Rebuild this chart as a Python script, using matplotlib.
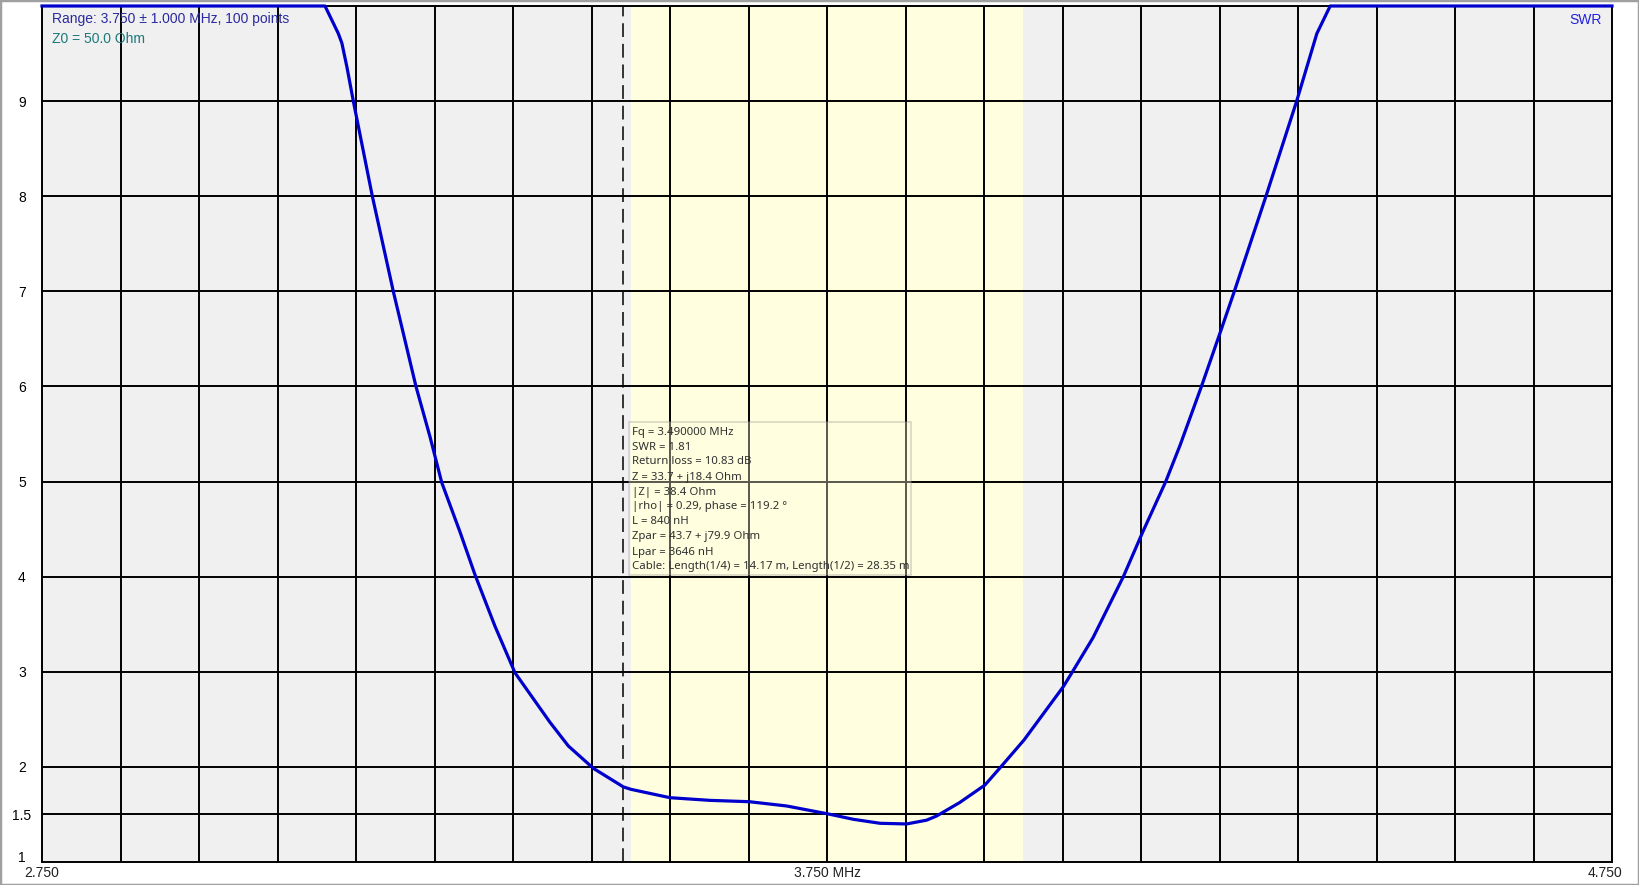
import matplotlib
matplotlib.use('Agg')
import matplotlib.pyplot as plt
from matplotlib.patches import Rectangle
from matplotlib.transforms import ScaledTranslation

# SWR sweep, values (display clipped at 10)
freq_mhz = [2.750, 3.1105, 3.1211, 3.1275, 3.132, 3.1384, 3.1466, 3.1708, 3.1975,
            3.2264, 3.2443, 3.2592, 3.2825, 3.3016, 3.327, 3.3525, 3.397, 3.4205,
            3.4523, 3.4905, 3.5003, 3.550, 3.601, 3.651, 3.6986, 3.7517, 3.7835,
            3.8175, 3.8515, 3.877, 3.8897, 3.919, 3.9513, 3.9704, 4.001, 4.051,
            4.0616, 4.089, 4.1275, 4.1517, 4.1815, 4.1997, 4.227, 4.2506, 4.2689,
            4.3092, 4.3483, 4.374, 4.391, 4.750]
swr = [10.0, 10.0, 9.82, 9.71, 9.61, 9.36, 9.0, 8.0, 7.0,
       6.0, 5.47, 4.99, 4.47, 4.02, 3.48, 2.99, 2.47, 2.22,
       1.985, 1.79, 1.764, 1.676, 1.648, 1.634, 1.589, 1.505, 1.449,
       1.407, 1.40, 1.44, 1.484, 1.625, 1.81, 1.99, 2.283, 2.843,
       2.985, 3.36, 4.0, 4.46, 5.0, 5.38, 6.0, 6.56, 7.0,
       8.0, 9.0, 9.71, 10.0, 10.0]

band = (3.5, 4.0)
marker_fq = 3.49
y_ticks = [1, 1.5, 2, 3, 4, 5, 6, 7, 8, 9]
y_labels = ['1', '1.5', '2', '3', '4', '5', '6', '7', '8', '9']
x_grid = [2.75 + 0.1 * i for i in range(1, 20)]

info_lines = [
    'Fq = 3.490000 MHz',
    'SWR = 1.81',
    'Return loss = 10.83 dB',
    'Z = 33.7 + j18.4 Ohm',
    '|Z| = 38.4 Ohm',
    '|rho| = 0.29, phase = 119.2 °',
    'L = 840 nH',
    'Zpar = 43.7 + j79.9 Ohm',
    'Lpar = 3646 nH',
    'Cable: Length(1/4) = 14.17 m, Length(1/2) = 28.35 m',
]

W, H = 1639, 885
fig = plt.figure(figsize=(W / 100, H / 100), dpi=100)
fig.patch.set_facecolor('white')
ax = fig.add_axes([42 / W, 23 / H, 1570 / W, 856 / H])
ax.set_facecolor('#f0f0f0')
ax.set_xlim(2.75, 4.75)
ax.set_ylim(1, 10)

ax.axvspan(band[0], band[1], color='#ffffe0', zorder=0.5, lw=0)
for x in x_grid:
    ax.axvline(x, color='black', lw=1.4, zorder=1)
for y in y_ticks[1:]:
    ax.axhline(y, color='black', lw=1.4, zorder=1)
ax.axvline(marker_fq, color='black', lw=1.1, ls=(0, (9, 4.5)), zorder=2)

ax.plot(freq_mhz, swr, color='#0000cc', lw=2.3, zorder=4, clip_on=False,
        solid_joinstyle='round')

for s in ax.spines.values():
    s.set_color('black'); s.set_linewidth(1.4)

ax.set_xticks([])
ax.set_yticks(y_ticks)
ax.set_yticklabels(y_labels, fontsize=10, family='Liberation Sans')
ax.tick_params(axis='y', length=0, pad=14.4)
for t in ax.get_yticklabels():
    t.set_ha('center')
lab1 = ax.get_yticklabels()[0]
lab1.set_transform(lab1.get_transform() + ScaledTranslation(0, 5 / 100, fig.dpi_scale_trans))

# x labels
fs = fig.transFigure
for xp, txt in [(42, '2.750'), (827, '3.750 MHz'), (1605, '4.750')]:
    fig.text(xp / W, 1 - 873 / H, txt, ha='center', va='center', fontsize=10,
             family='Liberation Sans', color='#202020')

fig.text(52 / W, 1 - 19 / H, 'Range: 3.750 ± 1.000 MHz, 100 points', ha='left',
         va='center', fontsize=10, family='Liberation Sans', color='#2a2aa0')
fig.text(52 / W, 1 - 39 / H, 'Z0 = 50.0 Ohm', ha='left', va='center', fontsize=10,
         family='Liberation Sans', color='#1a7a7a')
fig.text(1602 / W, 1 - 20 / H, 'SWR', ha='right', va='center', fontsize=10,
         family='Liberation Sans', color='#2020e0')

# info tooltip
fig.patches.append(Rectangle((629 / W, 1 - 575 / H), 282 / W, 153 / H,
                             transform=fs, facecolor='#ffffe0', alpha=0.35,
                             edgecolor='#8c8c8c', lw=1.2, zorder=5))
for i, line in enumerate(info_lines):
    fig.text(632 / W, 1 - (432 + 15 * i) / H, line, ha='left', va='center',
             fontsize=8.2, family='Noto Sans', color='#303030', zorder=6)

# window border
fig.patches.append(Rectangle((0, 0), 1, 1, transform=fs, fill=False,
                             edgecolor='#a0a0a0', lw=2.5))

fig.savefig('out.png', dpi=100)
